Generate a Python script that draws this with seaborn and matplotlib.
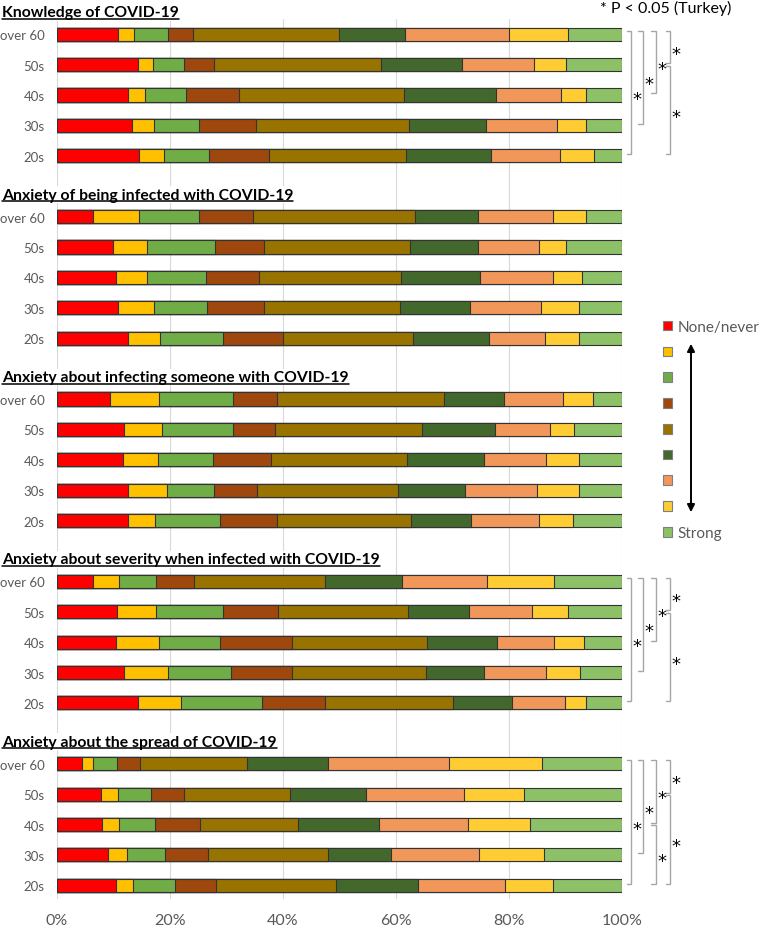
import numpy as np
import pandas as pd
import matplotlib
matplotlib.use("Agg")
import matplotlib.pyplot as plt
import seaborn as sns
from matplotlib.patches import Patch, FancyArrowPatch
from matplotlib.lines import Line2D
from matplotlib.transforms import blended_transform_factory

# ---------------- data ----------------
sections = [
    "Knowledge of COVID-19",
    "Anxiety of being infected with COVID-19",
    "Anxiety about infecting someone with COVID-19",
    "Anxiety about severity when infected with COVID-19",
    "Anxiety about the spread of COVID-19",
]
age_groups = ["over 60", "50s", "40s", "30s", "20s"]
levels = ["None/never", "L2", "L3", "L4", "L5", "L6", "L7", "L8", "Strong"]
legend_labels = ["None/never", "", "", "", "", "", "", "", "Strong"]
level_colors = ["#FF0000", "#FFC000", "#70AD47", "#9E480E", "#997300",
                "#43682B", "#F1975A", "#FFCD33", "#8CC168"]

knowledge = [
    [10.8, 2.8, 6.0, 4.5, 25.8, 11.7, 18.4, 10.4, 9.6],
    [14.3, 2.7, 5.5, 5.3, 29.5, 14.4, 12.7, 5.7, 9.9],
    [12.6, 3.0, 7.2, 9.4, 29.2, 16.3, 11.5, 4.4, 6.4],
    [13.3, 3.9, 7.9, 10.1, 27.1, 13.6, 12.6, 5.1, 6.4],
    [14.5, 4.4, 8.0, 10.6, 24.3, 15.0, 12.2, 6.0, 5.0],
]
infected = [
    [6.4, 8.1, 10.6, 9.6, 28.7, 11.1, 13.3, 5.8, 6.4],
    [9.9, 6.0, 12.1, 8.6, 25.9, 12.0, 10.8, 4.8, 9.9],
    [10.4, 5.5, 10.5, 9.4, 25.1, 14.0, 12.9, 5.1, 7.1],
    [10.8, 6.4, 9.3, 10.1, 24.1, 12.4, 12.6, 6.7, 7.6],
    [12.6, 5.6, 11.2, 10.6, 23.0, 13.5, 9.9, 6.0, 7.6],
]
infecting = [
    [9.4, 8.7, 13.1, 7.7, 29.6, 10.6, 10.5, 5.3, 5.1],
    [11.9, 6.7, 12.6, 7.4, 26.0, 12.9, 9.8, 4.2, 8.5],
    [11.7, 6.2, 9.7, 10.3, 24.0, 13.7, 10.9, 5.9, 7.6],
    [12.6, 6.9, 8.3, 7.6, 25.0, 11.8, 12.8, 7.4, 7.6],
    [12.6, 4.7, 11.5, 10.1, 23.8, 10.6, 12.0, 6.0, 8.7],
]
severity = [
    [6.4, 4.6, 6.5, 6.7, 23.2, 13.7, 15.0, 11.9, 12.0],
    [10.6, 6.9, 11.9, 9.7, 23.0, 10.8, 11.2, 6.3, 9.6],
    [10.4, 7.7, 10.7, 12.8, 23.9, 12.4, 10.1, 5.3, 6.7],
    [11.9, 7.7, 11.2, 10.8, 23.7, 10.3, 10.9, 6.1, 7.4],
    [14.3, 7.6, 14.4, 11.1, 22.7, 10.4, 9.4, 3.7, 6.4],
]
spread = [
    [4.4, 2.0, 4.2, 4.1, 18.9, 14.4, 21.4, 16.4, 14.2],
    [7.8, 3.0, 5.8, 5.9, 18.7, 13.5, 17.3, 10.7, 17.3],
    [8.0, 3.0, 6.3, 8.0, 17.4, 14.3, 15.7, 11.0, 16.3],
    [9.0, 3.4, 6.7, 7.6, 21.3, 11.1, 15.6, 11.5, 13.8],
    [10.4, 3.1, 7.4, 7.2, 21.3, 14.5, 15.4, 8.5, 12.2],
]
x_ticks = [0, 20, 40, 60, 80, 100]
x_tick_labels = ["0%", "20%", "40%", "60%", "80%", "100%"]

# significant pairs (row indices into age_groups) per section
sig_pairs = [
    [(0, 4), (0, 3), (0, 2), (0, 1), (1, 4)],
    [],
    [],
    [(0, 4), (0, 3), (0, 2), (0, 1), (1, 4)],
    [(0, 4), (0, 3), (0, 2), (0, 1), (1, 4), (2, 4)],
]
note_text = "* P < 0.05 (Turkey)"

all_sections = [knowledge, infected, infecting, severity, spread]

# ---------------- tidy table ----------------
rows = []
for s, block in enumerate(all_sections):
    for r, vals in enumerate(block):
        cum = np.cumsum(vals)
        for k, lev in enumerate(levels):
            rows.append({"pos": 6 * s + r, "level": lev, "cum": cum[k]})
df = pd.DataFrame(rows)

# ---------------- plot ----------------
sns.set_theme(style="whitegrid")
plt.rcParams["font.family"] = ["Lato", "DejaVu Sans"]

W, H = 759, 928
fig = plt.figure(figsize=(W / 100, H / 100), dpi=100)
ax = fig.add_axes([57 / W, (H - 900) / H, (622 - 57) / W, (900 - 20) / H])

palette = dict(zip(levels, level_colors))
sns.barplot(data=df, x="cum", y="pos", hue="level", hue_order=levels[::-1],
            palette=palette, orient="h", native_scale=True, dodge=False,
            width=0.43, saturation=1, errorbar=None, legend=False,
            edgecolor="#333333", linewidth=0.8, ax=ax)

ax.set_xlim(0, 100)
ax.set_ylim(28.45, -0.5)
ax.set_xlabel("")
ax.set_ylabel("")
for sp in ax.spines.values():
    sp.set_visible(False)
ax.grid(axis="y", visible=False)
ax.grid(axis="x", color="#D9D9D9", linewidth=0.8)
ax.set_axisbelow(True)

ax.set_xticks(x_ticks)
ax.set_xticklabels(x_tick_labels)
ypos = [6 * s + r for s in range(5) for r in range(5)]
ax.set_yticks(ypos)
ax.set_yticklabels(age_groups * 5)
ax.tick_params(axis="y", length=0, pad=9, labelsize=9.5, labelcolor="#595959")
ax.tick_params(axis="x", length=0, pad=10, labelsize=11.5, labelcolor="#595959")

# section titles
trans = blended_transform_factory(fig.transFigure, ax.transData)
title_texts = []
for s, title in enumerate(sections):
    t = ax.text(2 / W, 6 * s - 0.72, title, transform=trans, ha="left", va="center",
                fontsize=11.3, fontweight="bold", color="black",
                bbox=dict(facecolor="white", edgecolor="none", pad=1.0), zorder=5)
    title_texts.append(t)

# significance brackets
col_x = [101.6, 103.7, 106.0, 108.5]
col_of = {(0, 4): 0, (0, 3): 1, (0, 2): 2, (0, 1): 3, (1, 4): 3, (2, 4): 2}
for s, pairs in enumerate(sig_pairs):
    for (a, b) in pairs:
        c = col_of[(a, b)]
        xv = col_x[c]
        y0 = 6 * s + a + (-0.12 if a == 0 else 0.03)
        y1 = 6 * s + b - 0.05
        ax.plot([xv - 0.8, xv, xv, xv - 0.8], [y0, y0, y1, y1], color="#A6A6A6",
                lw=1.0, clip_on=False, solid_joinstyle="miter")
        ax.text(xv + 1.0, (y0 + y1) / 2 + 0.22, "*", ha="center", va="center",
                fontsize=13, fontfamily="DejaVu Sans", color="black", clip_on=False)

fig.text(731 / W, 1 - 8 / H, note_text, ha="right", va="center", fontsize=11.5, color="black")

# legend
handles = [Patch(facecolor=c, edgecolor="#7F7F7F", linewidth=0.8) for c in level_colors]
fig.legend(handles, legend_labels, loc="upper left",
           bbox_to_anchor=(663 / W, 1 - 321 / H), frameon=False,
           handlelength=0.6, handleheight=0.6, handletextpad=0.35,
           labelspacing=0.77, borderpad=0, borderaxespad=0,
           fontsize=11, labelcolor="#595959")

arrow = FancyArrowPatch((691 / W, 1 - 342 / H), (691 / W, 1 - 516 / H),
                        transform=fig.transFigure, arrowstyle="<|-|>",
                        mutation_scale=11, color="black", lw=1.4)
fig.add_artist(arrow)

# underline titles
fig.canvas.draw()
renderer = fig.canvas.get_renderer()
for t in title_texts:
    bb = t.get_window_extent(renderer)
    yl = bb.y0 + 0.5
    fig.add_artist(Line2D([bb.x0 / W, bb.x1 / W], [yl / H, yl / H],
                          transform=fig.transFigure, color="black", lw=1.1, zorder=6))

fig.savefig("out.png", dpi=100)
